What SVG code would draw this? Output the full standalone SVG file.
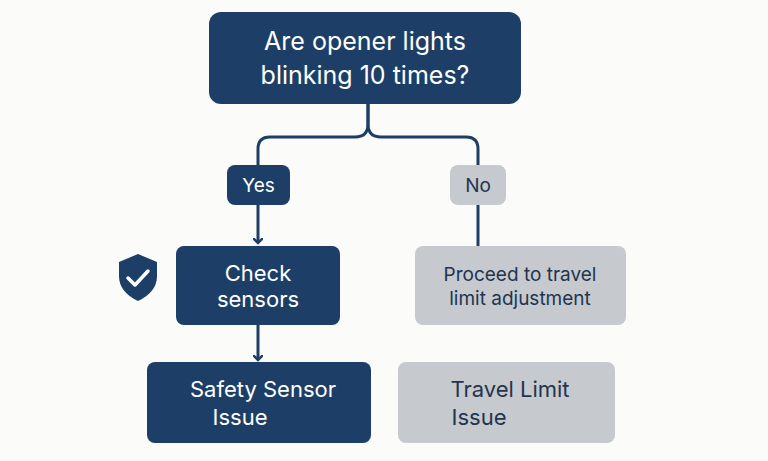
<svg xmlns="http://www.w3.org/2000/svg" width="768" height="461" viewBox="0 0 768 461">
<defs>
<style>
.n{fill:#1d3f67}.g{fill:#c6c9cd}
.tw{fill:#fff;font-family:"Inter","Liberation Sans",sans-serif;text-anchor:middle}
.td{fill:#1f3550;font-family:"Inter","Liberation Sans",sans-serif;text-anchor:middle}
.c{fill:none;stroke:#1d3f67;stroke-width:3}
</style>
<marker id="a" markerWidth="10" markerHeight="10" refX="5" refY="5" orient="auto" markerUnits="userSpaceOnUse"><path d="M0,0 L5,5 L0,10" fill="none" stroke="#1d3f67" stroke-width="2.5"/></marker>
</defs>
<rect width="768" height="461" fill="#fbfbf9"/>
<g id="connectors">
<path class="c" d="M368,104 V124 Q368,137 355,137 H270 Q258,137 258,149 V165"/>
<path class="c" d="M368,104 V124 Q368,137 381,137 H466 Q478,137 478,149 V165"/>
<path class="c" d="M258,205 V243" marker-end="url(#a)"/>
<path class="c" d="M478,205 V246"/>
<path class="c" d="M258,325 V360" marker-end="url(#a)"/>
</g>
<g id="q"><rect class="n" x="209" y="12" width="312" height="92" rx="12"/>
<text class="tw" font-size="25" x="365" y="50">Are opener  lights</text>
<text class="tw" font-size="25" x="365" y="84">blinking 10 times?</text></g>
<g id="yes"><rect class="n" x="227" y="165" width="63" height="40" rx="8"/><text class="tw" font-size="19" x="258.5" y="192">Yes</text></g>
<g id="no"><rect class="g" x="450" y="165" width="56" height="40" rx="8"/><text class="td" font-size="19" x="478" y="192">No</text></g>
<g id="shield"><path d="M138,254 L157,262 V276 Q157,292 138,301 Q119,292 119,276 V262 Z" fill="#1d3f67"/><path d="M128,278 L135,285 L148,271" fill="none" stroke="#fff" stroke-width="3.5" stroke-linecap="round" stroke-linejoin="round"/></g>
<g id="check"><rect class="n" x="176" y="246" width="164" height="79" rx="8"/>
<text class="tw" font-size="22" x="258" y="281">Check</text><text class="tw" font-size="22" x="258" y="307">sensors</text></g>
<g id="proceed"><rect class="g" x="415" y="246" width="211" height="79" rx="8"/>
<text class="td" font-size="19" x="520" y="281">Proceed to travel</text><text class="td" font-size="19" x="520" y="305">limit adjustment</text></g>
<g id="safety"><rect class="n" x="147" y="362" width="224" height="81" rx="8"/>
<text class="tw" font-size="22" x="263" y="397">Safety Sensor</text><text class="tw" font-size="22" x="240" y="425">Issue</text></g>
<g id="travel"><rect class="g" x="398" y="362" width="217" height="81" rx="8"/>
<text class="td" font-size="22" x="510" y="397">Travel Limit</text><text class="td" font-size="22" x="479" y="425">Issue</text></g>
</svg>
